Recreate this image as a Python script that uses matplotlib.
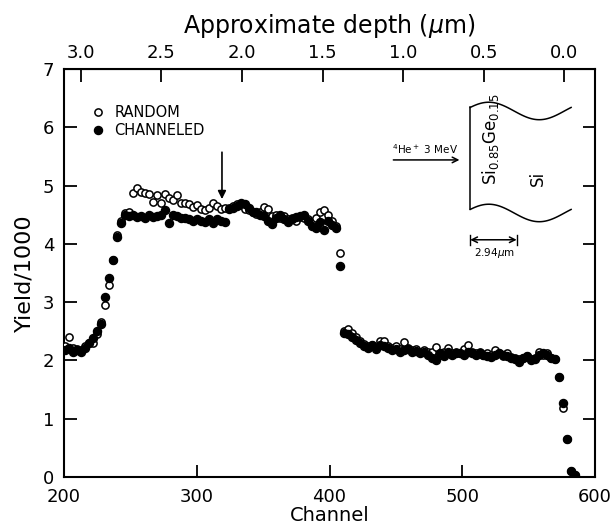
import numpy as np
import matplotlib.pyplot as plt

# RBS spectrum (every 3rd channel)
channel = np.arange(201, 586, 3)

channeled = [
    2.18, 2.22, 2.15, 2.18, 2.14, 2.22, 2.30, 2.38, 2.50, 2.63,
    3.09, 3.41, 3.72, 4.12, 4.36, 4.50, 4.47, 4.50, 4.46, 4.48,
    4.45, 4.49, 4.46, 4.48, 4.50, 4.58, 4.36, 4.50, 4.48, 4.45,
    4.44, 4.42, 4.40, 4.43, 4.40, 4.38, 4.42, 4.36, 4.42, 4.40,
    4.37, 4.60, 4.62, 4.65, 4.70, 4.68, 4.62, 4.55, 4.55, 4.50,
    4.48, 4.40, 4.34, 4.45, 4.50, 4.42, 4.37, 4.42, 4.46, 4.48,
    4.49, 4.40, 4.30, 4.27, 4.38, 4.24, 4.40, 4.32, 4.27, 3.62,
    2.47, 2.45, 2.40, 2.35, 2.30, 2.25, 2.22, 2.26, 2.20, 2.27,
    2.24, 2.22, 2.18, 2.20, 2.15, 2.18, 2.20, 2.15, 2.17, 2.12,
    2.15, 2.10, 2.05, 2.00, 2.12, 2.08, 2.14, 2.10, 2.12, 2.13,
    2.10, 2.15, 2.12, 2.10, 2.13, 2.10, 2.08, 2.06, 2.10, 2.12,
    2.10, 2.08, 2.05, 2.02, 1.98, 2.05, 2.08, 2.00, 2.03, 2.10,
    2.12, 2.10, 2.05, 2.03, 1.72, 1.27, 0.65, 0.11, 0.03,
]

random_ = [
    2.25, 2.40, 2.22, 2.20, 2.18, 2.25, 2.30, 2.30, 2.45, 2.66,
    2.95, 3.29, 3.72, 4.15, 4.40, 4.53, 4.55, 4.87, 4.96, 4.89,
    4.87, 4.85, 4.72, 4.84, 4.70, 4.85, 4.78, 4.75, 4.84, 4.70,
    4.70, 4.68, 4.63, 4.67, 4.60, 4.58, 4.61, 4.70, 4.65, 4.60,
    4.62, 4.62, 4.65, 4.68, 4.66, 4.60, 4.58, 4.55, 4.52, 4.55,
    4.63, 4.60, 4.48, 4.50, 4.45, 4.48, 4.42, 4.45, 4.40, 4.46,
    4.44, 4.42, 4.38, 4.45, 4.55, 4.58, 4.49, 4.40, 4.30, 3.84,
    2.50, 2.54, 2.47, 2.40, 2.33, 2.28, 2.25, 2.27, 2.22, 2.33,
    2.34, 2.25, 2.22, 2.24, 2.20, 2.32, 2.22, 2.18, 2.20, 2.15,
    2.18, 2.14, 2.15, 2.23, 2.10, 2.15, 2.21, 2.12, 2.14, 2.12,
    2.20, 2.26, 2.14, 2.12, 2.15, 2.10, 2.12, 2.10, 2.18, 2.12,
    2.08, 2.12, 2.06, 2.05, 2.02, 2.04, 2.08, 2.02, 2.05, 2.15,
    2.10, 2.12, 2.05, 2.02, 1.72, 1.18, 0.65, 0.11, 0.03,
]

# depth scale on top: channel = surface - depth * ch_per_um
CH_SURFACE = 577.0
CH_PER_UM = 121.5
depth_ticks = [3.0, 2.5, 2.0, 1.5, 1.0, 0.5, 0.0]

plt.rcParams['font.family'] = 'DejaVu Sans'

fig = plt.figure(figsize=(6.13, 5.30), dpi=100)
ax = fig.add_axes([64 / 613, 53 / 530, 531 / 613, 408 / 530])

ax.plot(channel, random_, 'o', ls='none', ms=5.2, mfc='white', mec='black',
        mew=1.1, label='RANDOM', zorder=3)
ax.plot(channel, channeled, 'o', ls='none', ms=5.8, color='black',
        label='CHANNELED', zorder=4)

ax.set_xlim(200, 600)
ax.set_ylim(0, 7)
ax.set_xticks([200, 300, 400, 500, 600])
ax.set_yticks(range(8))
ax.tick_params(direction='in', length=9, width=1.3, labelsize=13,
               right=True, top=False)
ax.tick_params(axis='x', pad=8)
ax.tick_params(axis='y', pad=7)
for sp in ax.spines.values():
    sp.set_linewidth(1.5)

ax.set_xlabel('Channel', fontsize=14, labelpad=0)
ax.set_ylabel('Yield/1000', fontsize=16, labelpad=6)


def ch_to_depth(c):
    return (CH_SURFACE - c) / CH_PER_UM


def depth_to_ch(d):
    return CH_SURFACE - d * CH_PER_UM


sec = ax.secondary_xaxis('top', functions=(ch_to_depth, depth_to_ch))
sec.set_xticks(depth_ticks)
sec.xaxis.set_major_formatter('{x:.1f}')
sec.tick_params(direction='in', length=9, width=1.3, labelsize=13, pad=5)
sec.set_xlabel(r'Approximate depth ($\mu$m)', fontsize=17, labelpad=8)

ax.legend(loc='upper left', bbox_to_anchor=(0.04, 0.925), frameon=False,
          fontsize=10.5, handlelength=1.0, handletextpad=0.6,
          labelspacing=0.15, borderaxespad=0)

# arrow marking the interface
ax.annotate('', xy=(319, 4.72), xytext=(319, 5.62),
            arrowprops=dict(arrowstyle='-|>', color='black', lw=1.2,
                            mutation_scale=12))

# sample schematic (inset)
xw = np.linspace(506, 582, 80)
top = 6.28 + 0.15 * np.cos(2 * np.pi * (xw - 520) / 76)
ax.plot(xw, top, color='black', lw=1.1)
ax.plot(xw, top - 1.75, color='black', lw=1.1)
ax.plot([506, 506], [top[0], top[0] - 1.75], color='black', lw=1.1)

ax.annotate('', xy=(500, 5.44), xytext=(446, 5.44),
            arrowprops=dict(arrowstyle='->', color='black', lw=1.1))
ax.text(472, 5.62, r'$^4$He$^+$ 3 MeV', fontsize=7.5, ha='center',
        va='center')
ax.text(521, 5.80, r'Si$_{0.85}$Ge$_{0.15}$', fontsize=12, rotation=90,
        ha='center', va='center')
ax.text(557, 5.13, 'Si', fontsize=12, rotation=90, ha='center', va='center')

ax.annotate('', xy=(506, 4.07), xytext=(541, 4.07),
            arrowprops=dict(arrowstyle='<->', color='black', lw=1.1,
                            shrinkA=0, shrinkB=0))
ax.plot([506, 506], [3.98, 4.16], color='black', lw=1.0)
ax.plot([541, 541], [3.98, 4.16], color='black', lw=1.0)
ax.text(524, 3.85, r'2.94$\mu$m', fontsize=7.5, ha='center', va='center')

fig.savefig('out.png', dpi=100)
